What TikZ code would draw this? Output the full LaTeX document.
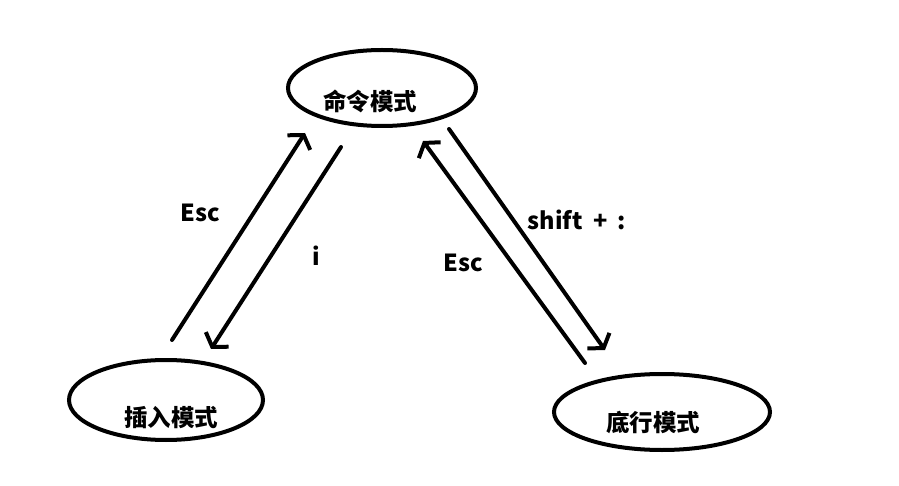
\documentclass[tikz,border=0pt]{standalone}
\usepackage{fontspec}
\setmainfont{Noto Sans CJK SC}
\usetikzlibrary{arrows.meta,shapes.geometric}
\tikzset{
  lbl/.style={font=\fontsize{23.5}{26}\selectfont\bfseries, inner sep=0pt},
  conn/.style={line width=4pt, line cap=round, -{Straight Barb[length=9pt,width=27pt,line width=4pt]}},
  ring/.style={line width=4pt}
}
\begin{document}
\begin{tikzpicture}[x=1pt,y=-1pt]
\useasboundingbox[fill=white] (0,0) rectangle (899,486);
% ellipses
\draw[ring] (382,88) ellipse [x radius=94, y radius=38];
\draw[ring] (166,400) ellipse [x radius=97, y radius=40];
\draw[ring] (662,412) ellipse [x radius=108, y radius=38];
\node[lbl] (cmd) at (370,101) {命令模式};
\node[lbl] (ins) at (171,418) {插入模式};
\node[lbl] (bot) at (653,422) {底行模式};
% connector endpoints
\coordinate (a1) at (172,340);
\coordinate (a2) at (305,133);
\coordinate (b1) at (341,147);
\coordinate (b2) at (211,349);
\coordinate (c1) at (585,363);
\coordinate (c2) at (423,141);
\coordinate (d1) at (449,129);
\coordinate (d2) at (605,350);
\draw[conn] (a1) -- (a2);
\draw[conn] (b1) -- (b2);
\draw[conn] (c1) -- (c2);
\draw[conn] (d1) -- (d2);
% labels
\node[lbl] (esc1) at (200,213) {Esc};
\node[lbl] (i) at (316,256) {i};
\node[lbl] (shift) at (577,220) {shift\hspace{0.45em}+\hspace{0.45em}:};
\node[lbl] (esc2) at (463,263) {Esc};
\end{tikzpicture}
\end{document}
